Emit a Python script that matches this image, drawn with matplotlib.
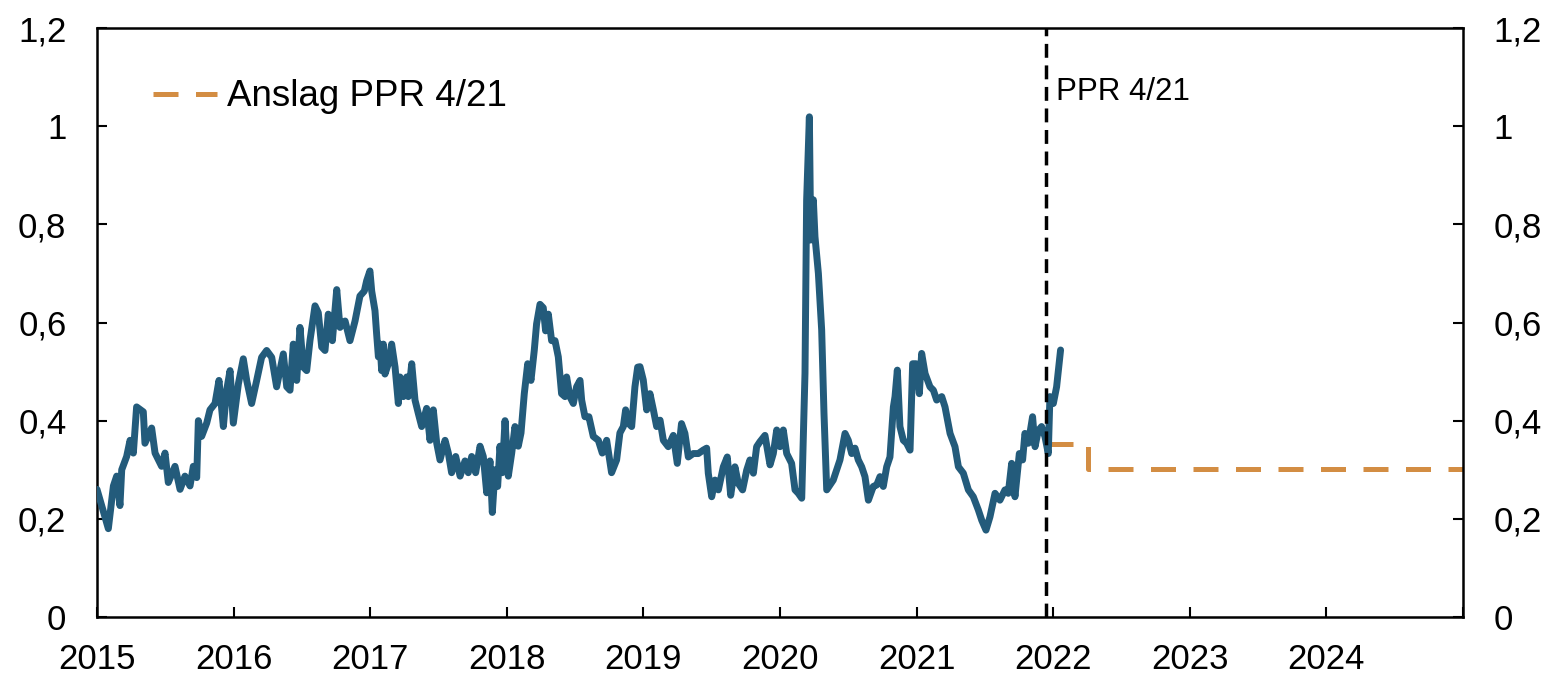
import matplotlib.pyplot as plt
from matplotlib.ticker import FuncFormatter

# Daily policy-rate-spread style series (decimal years)
years = [
    2015.000, 2015.034, 2015.083, 2015.120, 2015.144, 2015.168, 2015.181, 2015.217,
    2015.242, 2015.266, 2015.290, 2015.339, 2015.351, 2015.400, 2015.425, 2015.473,
    2015.498, 2015.522, 2015.571, 2015.608, 2015.644, 2015.681, 2015.705, 2015.730,
    2015.742, 2015.766, 2015.803, 2015.827, 2015.864, 2015.893, 2015.925, 2015.949,
    2015.974, 2015.998, 2016.035, 2016.071, 2016.096, 2016.132, 2016.169, 2016.205,
    2016.242, 2016.279, 2016.315, 2016.364, 2016.389, 2016.413, 2016.437, 2016.462,
    2016.486, 2016.510, 2016.535, 2016.559, 2016.596, 2016.620, 2016.645, 2016.669,
    2016.693, 2016.723, 2016.755, 2016.779, 2016.816, 2016.852, 2016.889, 2016.925,
    2016.957, 2016.974, 2016.998, 2017.011, 2017.035, 2017.047, 2017.060, 2017.072,
    2017.084, 2017.096, 2017.108, 2017.133, 2017.157, 2017.182, 2017.206, 2017.218,
    2017.243, 2017.267, 2017.279, 2017.304, 2017.328, 2017.352, 2017.377, 2017.413,
    2017.438, 2017.462, 2017.487, 2017.511, 2017.548, 2017.572, 2017.596, 2017.626,
    2017.658, 2017.694, 2017.718, 2017.743, 2017.772, 2017.804, 2017.828, 2017.853,
    2017.877, 2017.894, 2017.914, 2017.933, 2017.950, 2017.967, 2017.987, 2018.011,
    2018.036, 2018.060, 2018.084, 2018.104, 2018.128, 2018.153, 2018.177, 2018.201,
    2018.218, 2018.243, 2018.267, 2018.284, 2018.304, 2018.328, 2018.353, 2018.377,
    2018.401, 2018.426, 2018.438, 2018.462, 2018.487, 2018.511, 2018.536, 2018.548,
    2018.572, 2018.601, 2018.633, 2018.670, 2018.699, 2018.731, 2018.767, 2018.804,
    2018.828, 2018.853, 2018.870, 2018.889, 2018.914, 2018.938, 2018.958, 2018.975,
    2018.999, 2019.024, 2019.048, 2019.073, 2019.097, 2019.122, 2019.146, 2019.182,
    2019.219, 2019.248, 2019.279, 2019.304, 2019.329, 2019.365, 2019.402, 2019.438,
    2019.463, 2019.475, 2019.500, 2019.524, 2019.549, 2019.585, 2019.614, 2019.639,
    2019.670, 2019.695, 2019.726, 2019.756, 2019.780, 2019.805, 2019.829, 2019.853,
    2019.890, 2019.927, 2019.951, 2019.976, 2020.000, 2020.024, 2020.049, 2020.085,
    2020.110, 2020.134, 2020.159, 2020.183, 2020.195, 2020.215, 2020.225, 2020.244,
    2020.256, 2020.281, 2020.305, 2020.322, 2020.342, 2020.390, 2020.439, 2020.476,
    2020.500, 2020.525, 2020.549, 2020.573, 2020.598, 2020.622, 2020.647, 2020.683,
    2020.708, 2020.732, 2020.756, 2020.781, 2020.805, 2020.830, 2020.842, 2020.859,
    2020.878, 2020.903, 2020.927, 2020.952, 2020.971, 2020.996, 2021.020, 2021.037,
    2021.062, 2021.098, 2021.123, 2021.147, 2021.184, 2021.208, 2021.245, 2021.281,
    2021.306, 2021.342, 2021.379, 2021.415, 2021.452, 2021.477, 2021.508, 2021.537,
    2021.574, 2021.610, 2021.647, 2021.671, 2021.696, 2021.720, 2021.752, 2021.776,
    2021.793, 2021.818, 2021.849, 2021.867, 2021.891, 2021.915, 2021.940, 2021.964,
    2021.976, 2022.001, 2022.025, 2022.054,
]
values = [
    0.260, 0.227, 0.180, 0.267, 0.287, 0.227, 0.300, 0.327,
    0.360, 0.334, 0.428, 0.418, 0.354, 0.385, 0.334, 0.307,
    0.334, 0.274, 0.307, 0.260, 0.287, 0.267, 0.307, 0.284,
    0.400, 0.368, 0.395, 0.422, 0.435, 0.482, 0.388, 0.462,
    0.502, 0.395, 0.475, 0.526, 0.482, 0.435, 0.482, 0.529,
    0.543, 0.529, 0.469, 0.536, 0.469, 0.462, 0.556, 0.482,
    0.590, 0.509, 0.502, 0.563, 0.634, 0.620, 0.550, 0.543,
    0.617, 0.563, 0.667, 0.590, 0.603, 0.563, 0.603, 0.654,
    0.664, 0.685, 0.705, 0.664, 0.624, 0.577, 0.530, 0.556,
    0.502, 0.556, 0.495, 0.516, 0.556, 0.509, 0.435, 0.489,
    0.449, 0.489, 0.449, 0.516, 0.442, 0.415, 0.388, 0.425,
    0.360, 0.422, 0.354, 0.320, 0.360, 0.334, 0.294, 0.327,
    0.287, 0.318, 0.294, 0.327, 0.294, 0.348, 0.327, 0.253,
    0.318, 0.213, 0.300, 0.266, 0.348, 0.294, 0.400, 0.287,
    0.334, 0.388, 0.348, 0.375, 0.455, 0.516, 0.482, 0.543,
    0.597, 0.637, 0.630, 0.583, 0.617, 0.563, 0.563, 0.530,
    0.455, 0.449, 0.489, 0.449, 0.435, 0.469, 0.482, 0.442,
    0.408, 0.408, 0.368, 0.360, 0.334, 0.360, 0.294, 0.320,
    0.375, 0.388, 0.422, 0.395, 0.388, 0.469, 0.509, 0.510,
    0.483, 0.422, 0.455, 0.422, 0.388, 0.401, 0.360, 0.347,
    0.370, 0.313, 0.394, 0.374, 0.326, 0.333, 0.333, 0.340,
    0.344, 0.293, 0.245, 0.279, 0.259, 0.306, 0.326, 0.248,
    0.306, 0.272, 0.259, 0.299, 0.320, 0.293, 0.347, 0.357,
    0.370, 0.310, 0.333, 0.381, 0.347, 0.381, 0.333, 0.313,
    0.259, 0.252, 0.242, 0.497, 0.849, 1.019, 0.768, 0.850,
    0.775, 0.700, 0.585, 0.415, 0.259, 0.279, 0.320, 0.374,
    0.360, 0.333, 0.344, 0.320, 0.306, 0.286, 0.238, 0.266,
    0.269, 0.286, 0.266, 0.306, 0.326, 0.428, 0.449, 0.503,
    0.388, 0.360, 0.354, 0.340, 0.516, 0.516, 0.455, 0.537,
    0.496, 0.469, 0.462, 0.442, 0.449, 0.428, 0.374, 0.347,
    0.306, 0.293, 0.259, 0.245, 0.218, 0.197, 0.177, 0.204,
    0.252, 0.238, 0.259, 0.252, 0.313, 0.245, 0.333, 0.320,
    0.374, 0.354, 0.408, 0.347, 0.380, 0.388, 0.367, 0.333,
    0.449, 0.435, 0.469, 0.544,
]

# Forecast (step, held until next value)
fc_years = [2021.962, 2022.255, 2025.0]
fc_values = [0.352, 0.301, 0.301]
fc_label = "Anslag PPR 4/21"

ppr_date = 2021.95
ppr_label = "PPR 4/21"

year_ticks = list(range(2015, 2026))
year_labels = [str(y) for y in range(2015, 2025)] + [""]
y_ticks = [0, 0.2, 0.4, 0.6, 0.8, 1.0, 1.2]

plt.rcParams["font.family"] = ["Liberation Sans", "DejaVu Sans"]

BLUE = "#235B7B"
ORANGE = "#D38D43"

fig = plt.figure(figsize=(15.52, 6.78), dpi=100)
ax = fig.add_axes([97 / 1552, 1 - 617 / 678, (1463 - 97) / 1552, (617 - 28) / 678])

ax.plot(years, values, color=BLUE, lw=5, solid_joinstyle="round",
        solid_capstyle="round", zorder=3)
ax.plot(fc_years, fc_values, color=ORANGE, lw=3.6, drawstyle="steps-post",
        dashes=(5, 3.5), label=fc_label, zorder=2)
ax.axvline(ppr_date, color="black", lw=2.5, dashes=(4, 2.2), zorder=4)
ax.text(ppr_date + 0.07, 1.07, ppr_label, fontsize=22.5, va="center", ha="left")

ax.set_xlim(2015, 2025)
ax.set_ylim(0, 1.2)
ax.set_xticks(year_ticks)
ax.set_xticklabels(year_labels)
ax.set_yticks(y_ticks)
ax.yaxis.set_major_formatter(FuncFormatter(lambda v, p: f"{v:g}".replace(".", ",")))

for s in ax.spines.values():
    s.set_linewidth(1.8)
ax.tick_params(axis="y", direction="in", length=7, width=1.5, labelsize=25,
               left=True, right=True, labelleft=True, labelright=True, pad=22)
ax.tick_params(axis="x", direction="in", length=7, width=1.5, labelsize=25, pad=19)

ax.legend(loc="center left", bbox_to_anchor=(0.041, 0.883), frameon=False,
          fontsize=26.5, handlelength=1.75, handletextpad=0.27,
          borderpad=0, borderaxespad=0)

fig.savefig("out.png", dpi=100)
